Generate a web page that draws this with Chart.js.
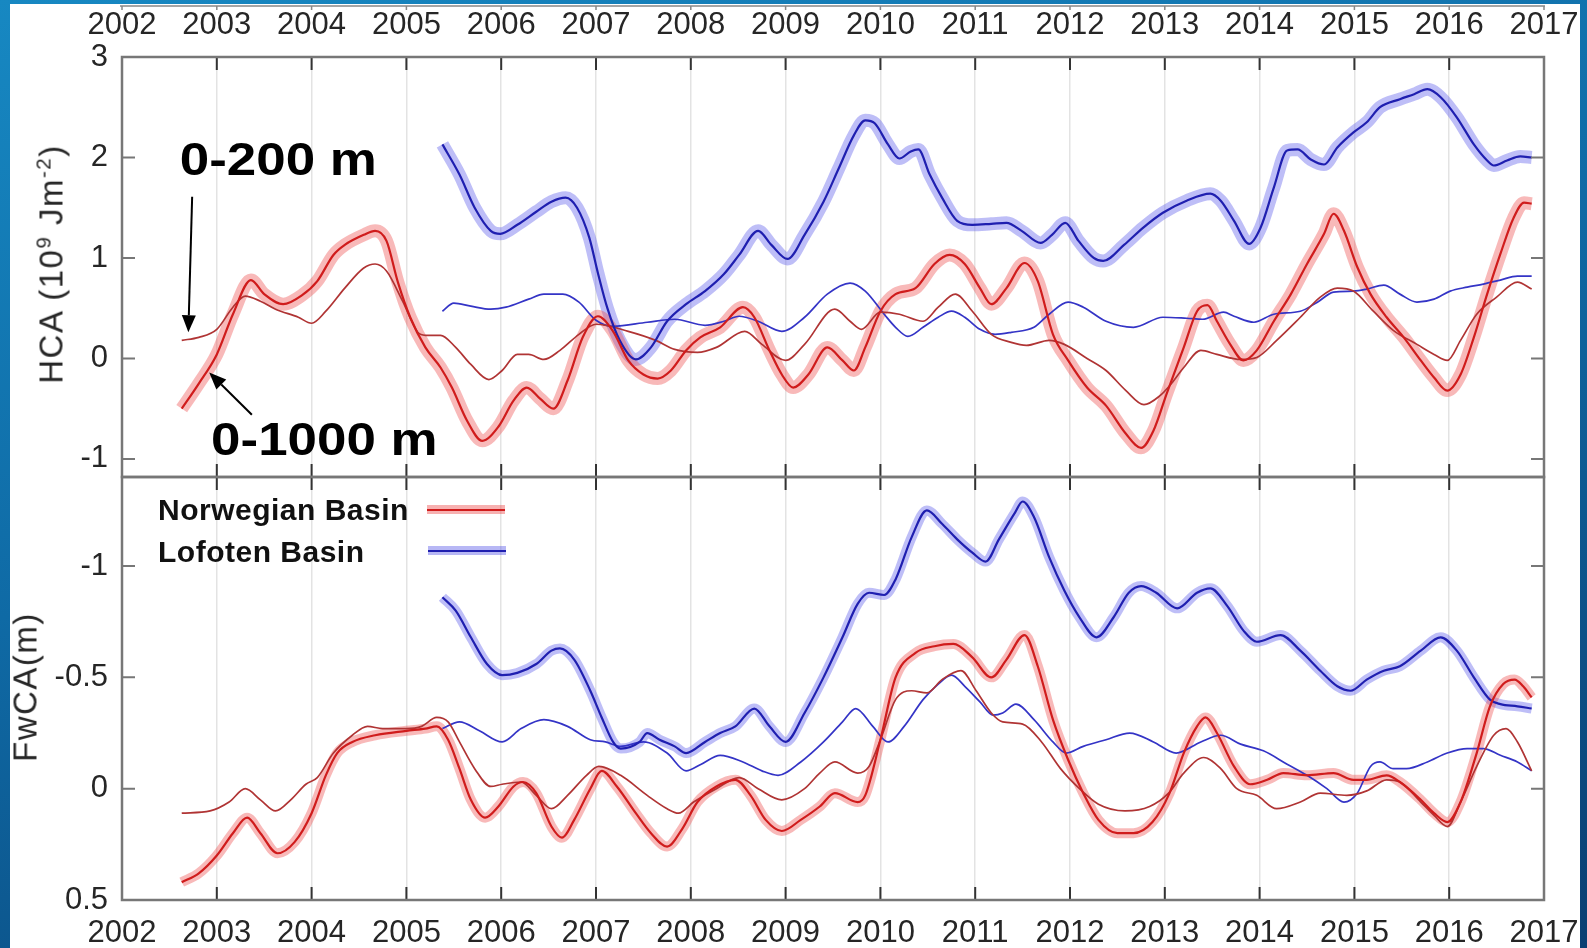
<!DOCTYPE html>
<html>
<head>
<meta charset="utf-8">
<script src="https://cdn.jsdelivr.net/npm/chart.js@4.4.0/dist/chart.umd.min.js"></script>
<style>
  html, body { margin: 0; padding: 0; }
  body {
    width: 1587px; height: 948px; overflow: hidden; position: relative;
    background: linear-gradient(165deg, #1788c2 0%, #0f6aa5 45%, #0a3f72 100%);
    font-family: 'Liberation Sans', Arial, sans-serif;
  }
  #paper { position: absolute; left: 10px; top: 4px; width: 1570px; height: 944px; background: #fff; }
  canvas { position: absolute; left: 0; }
  #topChart { top: 0; }
  #bottomChart { top: 472px; }
  .ytitle {
    position: absolute; white-space: nowrap; color: #262626;
    font-size: 33px; line-height: 1; letter-spacing: 1.5px;
    transform: translate(-50%, -50%) rotate(-90deg);
  }
  .ytitle sup { font-size: 0.62em; line-height: 0; vertical-align: 0.6em; }
  .legtext {
    position: absolute; left: 158px; color: #111; white-space: nowrap;
    font-weight: bold; font-size: 30px; line-height: 30px; letter-spacing: 0.5px;
  }
  .legline { position: absolute; width: 78px; height: 9px; }
  .legline div { position: absolute; left: 0; right: 0; top: 3.5px; height: 2px; }
</style>
</head>
<body>
<div id="paper"></div>
<canvas id="topChart" width="1587" height="482"></canvas>
<canvas id="bottomChart" width="1587" height="476"></canvas>

<div class="ytitle" style="left:51px; top:264px;">HCA (10<sup>9</sup> Jm<sup>-2</sup>)</div>
<div class="ytitle" style="left:25px; top:687px;">FwCA(m)</div>

<div class="legtext" style="top:495px;">Norwegian Basin</div>
<div class="legtext" style="top:537px;">Lofoten Basin</div>
<div class="legline" style="left:427px; top:505px; background:rgba(236,70,70,0.42);"><div style="background:#d01c1c"></div></div>
<div class="legline" style="left:428px; top:546px; background:rgba(95,95,232,0.45);"><div style="background:#1f1fb0"></div></div>

<script>
// x axis years and y tick values
const years = [2002, 2003, 2004, 2005, 2006, 2007, 2008, 2009, 2010, 2011, 2012, 2013, 2014, 2015, 2016, 2017];
const hcaTicks = [-1, 0, 1, 2, 3];
const fwTicks = [-1, -0.5, 0, 0.5];

// heat content anomaly, [year, value]
const hcaNor1000 = [[2002.63,-0.50],[2002.81,-0.25],[2003.0,0.04],[2003.17,0.44],[2003.36,0.78],[2003.5,0.64],[2003.7,0.54],[2003.9,0.63],[2004.06,0.77],[2004.23,1.03],[2004.35,1.13],[2004.55,1.23],[2004.67,1.27],[2004.79,1.17],[2004.91,0.76],[2005.04,0.41],[2005.2,0.11],[2005.36,-0.09],[2005.48,-0.29],[2005.64,-0.62],[2005.8,-0.82],[2005.97,-0.68],[2006.13,-0.42],[2006.27,-0.29],[2006.41,-0.40],[2006.55,-0.50],[2006.7,-0.22],[2006.86,0.21],[2007.02,0.42],[2007.18,0.27],[2007.34,-0.02],[2007.5,-0.16],[2007.65,-0.20],[2007.79,-0.12],[2007.95,0.08],[2008.1,0.21],[2008.31,0.31],[2008.55,0.51],[2008.67,0.41],[2008.83,0.08],[2008.96,-0.16],[2009.08,-0.29],[2009.24,-0.16],[2009.44,0.11],[2009.6,-0.02],[2009.72,-0.12],[2009.84,0.11],[2010.0,0.47],[2010.16,0.64],[2010.37,0.70],[2010.57,0.94],[2010.73,1.03],[2010.89,0.94],[2011.05,0.70],[2011.17,0.54],[2011.33,0.70],[2011.52,0.95],[2011.66,0.77],[2011.82,0.24],[2011.98,-0.02],[2012.18,-0.29],[2012.38,-0.47],[2012.59,-0.75],[2012.75,-0.89],[2012.88,-0.72],[2013.02,-0.35],[2013.2,0.11],[2013.34,0.47],[2013.45,0.53],[2013.55,0.37],[2013.69,0.14],[2013.83,-0.02],[2013.97,0.08],[2014.15,0.37],[2014.33,0.64],[2014.5,0.94],[2014.68,1.24],[2014.78,1.44],[2014.89,1.27],[2015.03,0.91],[2015.17,0.64],[2015.34,0.41],[2015.52,0.21],[2015.7,-0.02],[2015.84,-0.19],[2015.98,-0.32],[2016.12,-0.16],[2016.26,0.21],[2016.4,0.64],[2016.54,1.04],[2016.68,1.40],[2016.79,1.55],[2016.87,1.54]];
const hcaNor200 = [[2002.63,0.18],[2002.81,0.21],[2003.0,0.29],[2003.17,0.51],[2003.3,0.62],[2003.46,0.57],[2003.62,0.49],[2003.86,0.41],[2004.0,0.35],[2004.15,0.47],[2004.35,0.70],[2004.55,0.90],[2004.67,0.94],[2004.79,0.87],[2004.96,0.57],[2005.12,0.26],[2005.2,0.23],[2005.36,0.23],[2005.52,0.11],[2005.68,-0.06],[2005.87,-0.21],[2006.01,-0.12],[2006.17,0.04],[2006.29,0.04],[2006.45,-0.01],[2006.62,0.08],[2006.82,0.24],[2007.0,0.34],[2007.34,0.27],[2007.63,0.18],[2007.83,0.09],[2008.07,0.06],[2008.27,0.11],[2008.57,0.27],[2008.75,0.14],[2009.0,-0.02],[2009.2,0.14],[2009.52,0.49],[2009.68,0.37],[2009.8,0.29],[2010.0,0.46],[2010.2,0.44],[2010.45,0.37],[2010.61,0.51],[2010.79,0.64],[2010.97,0.47],[2011.17,0.24],[2011.38,0.16],[2011.54,0.13],[2011.78,0.18],[2011.94,0.14],[2012.18,0.0],[2012.38,-0.12],[2012.59,-0.32],[2012.78,-0.46],[2012.95,-0.37],[2013.07,-0.25],[2013.2,-0.09],[2013.38,0.08],[2013.55,0.04],[2013.8,-0.01],[2013.97,0.01],[2014.18,0.18],[2014.43,0.41],[2014.64,0.61],[2014.82,0.70],[2014.99,0.67],[2015.2,0.47],[2015.41,0.28],[2015.66,0.14],[2015.84,0.04],[2015.98,-0.02],[2016.12,0.18],[2016.29,0.44],[2016.5,0.61],[2016.72,0.76],[2016.87,0.69]];
const hcaLof1000 = [[2005.38,2.13],[2005.56,1.83],[2005.72,1.50],[2005.89,1.27],[2005.99,1.24],[2006.17,1.33],[2006.37,1.46],[2006.53,1.56],[2006.68,1.60],[2006.8,1.50],[2006.93,1.20],[2007.02,0.85],[2007.12,0.50],[2007.25,0.18],[2007.42,-0.01],[2007.58,0.11],[2007.75,0.37],[2007.95,0.54],[2008.15,0.67],[2008.35,0.84],[2008.51,1.03],[2008.71,1.27],[2008.85,1.13],[2009.02,0.99],[2009.2,1.23],[2009.4,1.56],[2009.56,1.89],[2009.72,2.22],[2009.84,2.37],[2009.94,2.34],[2010.08,2.13],[2010.2,1.99],[2010.32,2.06],[2010.4,2.08],[2010.52,1.83],[2010.65,1.60],[2010.81,1.37],[2010.97,1.33],[2011.17,1.34],[2011.33,1.35],[2011.49,1.27],[2011.69,1.15],[2011.81,1.23],[2011.95,1.35],[2012.09,1.17],[2012.25,1.0],[2012.35,0.97],[2012.57,1.13],[2012.77,1.30],[2012.98,1.45],[2013.23,1.57],[2013.48,1.64],[2013.59,1.57],[2013.73,1.37],[2013.89,1.14],[2014.01,1.30],[2014.15,1.70],[2014.29,2.07],[2014.4,2.08],[2014.54,1.98],[2014.68,1.93],[2014.82,2.10],[2014.99,2.25],[2015.13,2.35],[2015.27,2.50],[2015.48,2.58],[2015.63,2.63],[2015.77,2.68],[2015.91,2.60],[2016.08,2.40],[2016.26,2.13],[2016.4,1.97],[2016.47,1.92],[2016.61,1.97],[2016.75,2.01],[2016.87,2.0]];
const hcaLof200 = [[2005.38,0.47],[2005.5,0.55],[2005.68,0.52],[2005.89,0.49],[2006.05,0.51],[2006.29,0.59],[2006.45,0.64],[2006.65,0.64],[2006.82,0.56],[2007.0,0.38],[2007.18,0.32],[2007.54,0.36],[2007.83,0.39],[2008.15,0.33],[2008.35,0.37],[2008.51,0.42],[2008.71,0.37],[2008.96,0.27],[2009.2,0.41],[2009.44,0.64],[2009.68,0.75],[2009.84,0.67],[2010.04,0.44],[2010.16,0.31],[2010.29,0.22],[2010.45,0.31],[2010.61,0.41],[2010.75,0.47],[2010.89,0.41],[2011.05,0.29],[2011.21,0.24],[2011.38,0.26],[2011.62,0.31],[2011.78,0.44],[2011.98,0.56],[2012.14,0.51],[2012.38,0.37],[2012.67,0.31],[2012.98,0.41],[2013.23,0.40],[2013.4,0.39],[2013.62,0.46],[2013.73,0.42],[2013.94,0.36],[2014.15,0.44],[2014.43,0.47],[2014.61,0.56],[2014.78,0.66],[2014.99,0.67],[2015.13,0.69],[2015.31,0.73],[2015.48,0.64],[2015.66,0.56],[2015.84,0.59],[2016.01,0.67],[2016.19,0.71],[2016.36,0.74],[2016.54,0.78],[2016.72,0.82],[2016.87,0.82]];

// freshwater content anomaly, [year, value]
const fwNor1000 = [[2002.63,0.42],[2002.81,0.38],[2003.0,0.30],[2003.17,0.20],[2003.32,0.13],[2003.46,0.20],[2003.64,0.29],[2003.82,0.24],[2004.0,0.11],[2004.15,-0.06],[2004.27,-0.16],[2004.43,-0.21],[2004.67,-0.24],[2005.0,-0.26],[2005.2,-0.27],[2005.32,-0.28],[2005.44,-0.22],[2005.56,-0.09],[2005.68,0.05],[2005.83,0.13],[2005.97,0.08],[2006.13,-0.01],[2006.23,-0.03],[2006.37,0.02],[2006.53,0.17],[2006.64,0.22],[2006.77,0.14],[2006.94,0.0],[2007.06,-0.08],[2007.22,-0.01],[2007.42,0.11],[2007.58,0.20],[2007.75,0.26],[2007.91,0.18],[2008.07,0.06],[2008.27,-0.01],[2008.47,-0.04],[2008.63,0.03],[2008.79,0.14],[2008.96,0.19],[2009.16,0.14],[2009.36,0.08],[2009.52,0.02],[2009.76,0.06],[2009.84,0.03],[2010.0,-0.22],[2010.16,-0.50],[2010.37,-0.61],[2010.57,-0.64],[2010.77,-0.65],[2010.97,-0.59],[2011.17,-0.50],[2011.33,-0.58],[2011.52,-0.69],[2011.66,-0.55],[2011.82,-0.31],[2011.98,-0.13],[2012.14,0.02],[2012.3,0.14],[2012.5,0.20],[2012.67,0.20],[2012.87,0.15],[2013.05,0.02],[2013.2,-0.16],[2013.34,-0.28],[2013.43,-0.32],[2013.55,-0.25],[2013.73,-0.10],[2013.9,-0.02],[2014.08,-0.04],[2014.25,-0.07],[2014.5,-0.06],[2014.78,-0.07],[2014.99,-0.04],[2015.13,-0.04],[2015.34,-0.06],[2015.48,-0.03],[2015.7,0.05],[2015.84,0.11],[2015.98,0.15],[2016.12,0.06],[2016.29,-0.16],[2016.43,-0.37],[2016.57,-0.47],[2016.69,-0.49],[2016.78,-0.46],[2016.87,-0.41]];
const fwNor200 = [[2002.63,0.11],[2002.93,0.10],[2003.13,0.06],[2003.3,0.0],[2003.46,0.05],[2003.62,0.10],[2003.78,0.05],[2003.94,-0.02],[2004.06,-0.05],[2004.23,-0.16],[2004.43,-0.24],[2004.59,-0.28],[2004.75,-0.27],[2005.0,-0.27],[2005.16,-0.28],[2005.32,-0.32],[2005.44,-0.30],[2005.56,-0.21],[2005.72,-0.09],[2005.89,-0.01],[2006.01,-0.02],[2006.21,-0.03],[2006.37,0.03],[2006.53,0.09],[2006.7,0.03],[2006.9,-0.06],[2007.03,-0.10],[2007.26,-0.06],[2007.54,0.03],[2007.75,0.09],[2007.87,0.11],[2008.03,0.06],[2008.27,0.0],[2008.51,-0.05],[2008.71,0.0],[2008.96,0.05],[2009.2,0.0],[2009.36,-0.07],[2009.52,-0.12],[2009.76,-0.07],[2009.88,-0.10],[2010.0,-0.22],[2010.16,-0.40],[2010.33,-0.44],[2010.49,-0.43],[2010.65,-0.49],[2010.85,-0.53],[2011.01,-0.44],[2011.17,-0.34],[2011.29,-0.30],[2011.5,-0.29],[2011.7,-0.21],[2011.9,-0.09],[2012.1,0.0],[2012.3,0.07],[2012.58,0.10],[2012.84,0.08],[2013.04,0.02],[2013.2,-0.07],[2013.41,-0.14],[2013.59,-0.09],[2013.76,0.0],[2013.97,0.03],[2014.18,0.09],[2014.43,0.06],[2014.64,0.02],[2014.92,0.03],[2015.13,0.01],[2015.34,-0.04],[2015.48,-0.03],[2015.7,0.06],[2015.84,0.12],[2015.98,0.17],[2016.12,0.06],[2016.29,-0.10],[2016.47,-0.24],[2016.6,-0.27],[2016.72,-0.21],[2016.87,-0.08]];
const fwLof1000 = [[2005.38,-0.86],[2005.52,-0.80],[2005.68,-0.68],[2005.85,-0.56],[2006.01,-0.51],[2006.17,-0.52],[2006.37,-0.56],[2006.53,-0.62],[2006.62,-0.63],[2006.77,-0.58],[2006.94,-0.44],[2007.06,-0.32],[2007.18,-0.21],[2007.26,-0.18],[2007.46,-0.21],[2007.54,-0.25],[2007.67,-0.22],[2007.83,-0.19],[2007.95,-0.16],[2008.15,-0.21],[2008.31,-0.25],[2008.47,-0.28],[2008.67,-0.36],[2008.83,-0.28],[2009.0,-0.21],[2009.2,-0.34],[2009.4,-0.50],[2009.6,-0.68],[2009.76,-0.83],[2009.88,-0.88],[2010.04,-0.87],[2010.16,-0.94],[2010.33,-1.13],[2010.49,-1.25],[2010.65,-1.19],[2010.81,-1.12],[2010.97,-1.06],[2011.11,-1.02],[2011.25,-1.12],[2011.42,-1.24],[2011.5,-1.29],[2011.62,-1.22],[2011.78,-1.04],[2011.94,-0.89],[2012.1,-0.77],[2012.28,-0.68],[2012.46,-0.77],[2012.62,-0.88],[2012.75,-0.91],[2012.91,-0.88],[2013.13,-0.81],[2013.34,-0.88],[2013.48,-0.90],[2013.66,-0.82],[2013.83,-0.71],[2013.97,-0.66],[2014.22,-0.69],[2014.43,-0.62],[2014.64,-0.53],[2014.82,-0.46],[2014.96,-0.44],[2015.13,-0.49],[2015.31,-0.53],[2015.48,-0.55],[2015.7,-0.62],[2015.91,-0.68],[2016.08,-0.62],[2016.26,-0.50],[2016.43,-0.40],[2016.54,-0.38],[2016.72,-0.37],[2016.87,-0.36]];
const fwLof200 = [[2005.38,-0.27],[2005.56,-0.30],[2005.77,-0.26],[2006.01,-0.21],[2006.21,-0.27],[2006.45,-0.31],[2006.7,-0.28],[2006.94,-0.22],[2007.1,-0.21],[2007.26,-0.19],[2007.5,-0.21],[2007.75,-0.16],[2007.95,-0.08],[2008.11,-0.11],[2008.31,-0.15],[2008.55,-0.12],[2008.75,-0.08],[2008.92,-0.06],[2009.16,-0.12],[2009.4,-0.21],[2009.6,-0.30],[2009.74,-0.36],[2009.92,-0.28],[2010.08,-0.21],[2010.25,-0.28],[2010.45,-0.40],[2010.61,-0.47],[2010.75,-0.51],[2010.89,-0.46],[2011.05,-0.39],[2011.19,-0.33],[2011.29,-0.34],[2011.43,-0.38],[2011.62,-0.31],[2011.82,-0.21],[2011.96,-0.16],[2012.14,-0.19],[2012.38,-0.22],[2012.63,-0.25],[2012.88,-0.21],[2013.12,-0.16],[2013.38,-0.21],[2013.59,-0.24],[2013.8,-0.20],[2014.04,-0.17],[2014.29,-0.11],[2014.5,-0.06],[2014.71,0.0],[2014.89,0.06],[2015.03,0.02],[2015.17,-0.10],[2015.27,-0.12],[2015.41,-0.09],[2015.55,-0.09],[2015.77,-0.12],[2015.98,-0.16],[2016.19,-0.18],[2016.36,-0.18],[2016.54,-0.15],[2016.72,-0.12],[2016.87,-0.08]];

const RED_BAND = 'rgba(238, 80, 80, 0.40)';
const RED_LINE = '#d01c1c';
const RED_THIN = '#b03434';
const BLUE_BAND = 'rgba(100, 100, 235, 0.42)';
const BLUE_LINE = '#1f1fb0';
const BLUE_THIN = '#3434c6';
const TICK_FONT = { family: 'Liberation Sans', size: 31 };

function series(pts, color, width, order) {
    return {
        data: pts.map(p => ({ x: p[0], y: p[1] })),
        borderColor: color,
        borderWidth: width,
        pointRadius: 0,
        cubicInterpolationMode: 'monotone',
        fill: false,
        order: order,
        borderCapStyle: 'butt',
        borderJoinStyle: 'round'
    };
}

// matlab-like box with inward ticks
const frameTicks = {
    id: 'frameTicks',
    afterDraw(chart, args, opts) {
        const { ctx, chartArea: a, scales } = chart;
        const x = scales.x, y = scales.y;
        ctx.save();
        ctx.lineWidth = 2;
        ctx.strokeStyle = '#333';
        years.forEach(v => {
            if (v <= x.min || v >= x.max) return;
            const px = x.getPixelForValue(v);
            ctx.beginPath();
            ctx.moveTo(px, a.top); ctx.lineTo(px, a.top + 13);
            ctx.moveTo(px, a.bottom); ctx.lineTo(px, a.bottom - 13);
            ctx.stroke();
        });
        ctx.strokeStyle = '#777';
        opts.yTicks.forEach(v => {
            const py = y.getPixelForValue(v);
            if (py <= a.top + 1 || py >= a.bottom - 1) return;
            ctx.beginPath();
            ctx.moveTo(a.left, py); ctx.lineTo(a.left + 13, py);
            ctx.moveTo(a.right, py); ctx.lineTo(a.right - 13, py);
            ctx.stroke();
        });
        ctx.lineWidth = 2.5;
        ctx.strokeRect(a.left, a.top, a.right - a.left, a.bottom - a.top);
        if (opts.topRule) {
            // edge of the panel cut off above
            ctx.lineWidth = 1.5;
            ctx.strokeStyle = '#888';
            ctx.beginPath();
            ctx.moveTo(a.left - 2, 6); ctx.lineTo(a.right + 1, 6);
            years.forEach(v => {
                const px = x.getPixelForValue(v);
                ctx.moveTo(px, 6); ctx.lineTo(px, 10);
            });
            ctx.stroke();
        }
        ctx.restore();
    }
};

// depth labels with arrows, anchored in data space
const notes = [
    { text: '0-200 m', x: 2002.61, y: 1.83, from: [2002.74, 1.61], to: [2002.70, 0.26] },
    { text: '0-1000 m', x: 2002.94, y: -0.96, from: [2003.37, -0.56], to: [2002.92, -0.14] }
];

const depthNotes = {
    id: 'depthNotes',
    afterDraw(chart) {
        const { ctx, scales: { x, y } } = chart;
        ctx.save();
        notes.forEach(n => {
            const x0 = x.getPixelForValue(n.from[0]), y0 = y.getPixelForValue(n.from[1]);
            const x1 = x.getPixelForValue(n.to[0]), y1 = y.getPixelForValue(n.to[1]);
            const ang = Math.atan2(y1 - y0, x1 - x0);
            const head = 17, half = 7;
            const bx = x1 - head * Math.cos(ang), by = y1 - head * Math.sin(ang);
            ctx.strokeStyle = '#000';
            ctx.fillStyle = '#000';
            ctx.lineWidth = 2;
            ctx.beginPath();
            ctx.moveTo(x0, y0); ctx.lineTo(bx, by);
            ctx.stroke();
            ctx.beginPath();
            ctx.moveTo(x1, y1);
            ctx.lineTo(bx + half * Math.sin(ang), by - half * Math.cos(ang));
            ctx.lineTo(bx - half * Math.sin(ang), by + half * Math.cos(ang));
            ctx.closePath();
            ctx.fill();

            ctx.save();
            ctx.translate(x.getPixelForValue(n.x), y.getPixelForValue(n.y));
            ctx.scale(1.15, 1);
            ctx.font = 'bold 46px "Liberation Sans", Arial, sans-serif';
            ctx.textBaseline = 'alphabetic';
            ctx.fillText(n.text, 0, 0);
            ctx.restore();
        });
        ctx.restore();
    }
};

function xScale(position, height, pad) {
    return {
        type: 'linear',
        position: position,
        min: 2002,
        max: 2017,
        afterBuildTicks: s => { s.ticks = years.map(v => ({ value: v })); },
        afterFit: s => { s.height = height; s.paddingLeft = 0; s.paddingRight = 0; },
        grid: { color: '#e3e3e3', lineWidth: 1.5, drawTicks: false },
        border: { display: false },
        ticks: { padding: pad, color: '#262626', font: TICK_FONT, maxRotation: 0, autoSkip: false, callback: v => String(v) }
    };
}

function yScale(min, max, ticks, reverse) {
    return {
        type: 'linear',
        min: min,
        max: max,
        reverse: reverse,
        afterBuildTicks: s => { s.ticks = ticks.map(v => ({ value: v })); },
        afterFit: s => { s.width = 122; s.paddingTop = 0; s.paddingBottom = 0; },
        grid: { display: false, drawTicks: false },
        border: { display: false },
        ticks: { padding: 14, color: '#262626', font: TICK_FONT, callback: v => String(v) }
    };
}

const common = {
    responsive: false,
    animation: false,
    events: [],
    plugins: { legend: { display: false }, tooltip: { enabled: false } }
};

new Chart(document.getElementById('topChart'), {
    type: 'line',
    data: {
        datasets: [
            series(hcaNor1000, RED_BAND, 13, 3),
            series(hcaLof1000, BLUE_BAND, 13, 3),
            series(hcaNor200, RED_THIN, 1.7, 2),
            series(hcaLof200, BLUE_THIN, 1.7, 2),
            series(hcaNor1000, RED_LINE, 2.2, 1),
            series(hcaLof1000, BLUE_LINE, 2.2, 1)
        ]
    },
    options: {
        ...common,
        layout: { autoPadding: false, padding: { left: 0, right: 43, top: 0, bottom: 5 } },
        scales: { x: xScale('top', 57, 13), y: yScale(-1.18, 3, hcaTicks, false) },
        plugins: { ...common.plugins, frameTicks: { yTicks: hcaTicks, topRule: true } }
    },
    plugins: [frameTicks, depthNotes]
});

new Chart(document.getElementById('bottomChart'), {
    type: 'line',
    data: {
        datasets: [
            series(fwNor1000, RED_BAND, 10, 3),
            series(fwLof1000, BLUE_BAND, 10, 3),
            series(fwNor200, RED_THIN, 1.7, 2),
            series(fwLof200, BLUE_THIN, 1.7, 2),
            series(fwNor1000, RED_LINE, 2.2, 1),
            series(fwLof1000, BLUE_LINE, 2.2, 1)
        ]
    },
    options: {
        ...common,
        layout: { autoPadding: false, padding: { left: 0, right: 43, top: 5, bottom: 0 } },
        scales: { x: xScale('bottom', 48, 15), y: yScale(-1.4, 0.5, fwTicks, true) },
        plugins: { ...common.plugins, frameTicks: { yTicks: fwTicks, topRule: false } }
    },
    plugins: [frameTicks]
});
</script>
</body>
</html>
